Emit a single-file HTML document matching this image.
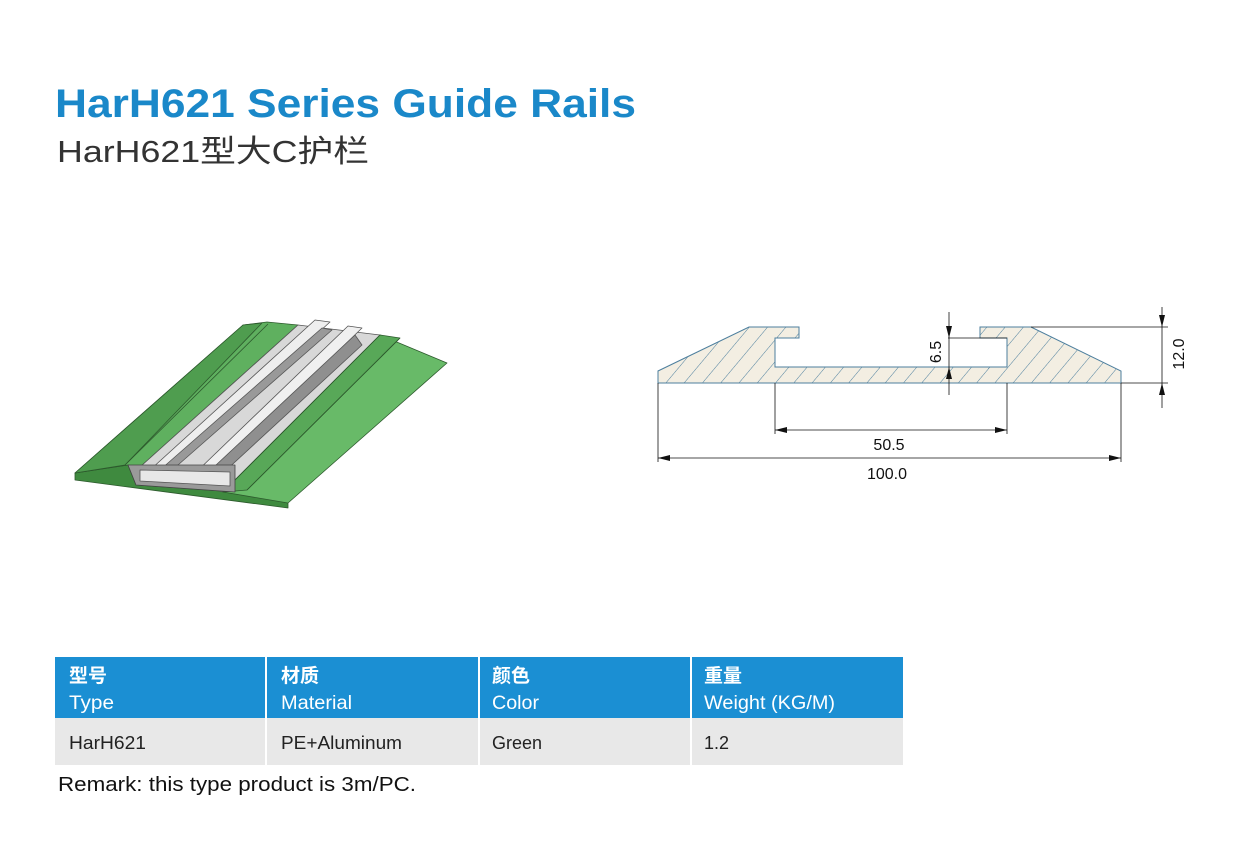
<!DOCTYPE html>
<html><head><meta charset="utf-8"><style>
html,body{margin:0;padding:0;background:#fff}
svg{display:block}
text{font-family:"Liberation Sans","Noto Sans CJK SC",sans-serif}
</style></head><body>
<svg width="1247" height="844" viewBox="0 0 1247 844" xmlns="http://www.w3.org/2000/svg">
<defs>
<pattern id="h" patternUnits="userSpaceOnUse" width="14" height="14" patternTransform="rotate(40)">
<rect width="14" height="14" fill="#f3eee2"/>
<line x1="0" y1="0" x2="0" y2="14" stroke="#4d7f9e" stroke-width="1"/>
</pattern>
<marker id="a" viewBox="0 0 12 6" refX="12" refY="3" markerWidth="12" markerHeight="6" orient="auto-start-reverse" markerUnits="userSpaceOnUse"><path d="M0,0L12,3L0,6z" fill="#111"/></marker>
</defs>
<text x="55" y="117" font-size="40" font-weight="bold" fill="#1a88c9" textLength="581" lengthAdjust="spacingAndGlyphs">HarH621 Series Guide Rails</text>
<text x="57" y="162" font-size="31" fill="#333" textLength="312" lengthAdjust="spacingAndGlyphs">HarH621型大C护栏</text>

<!-- 3D render -->
<g stroke="#2d5a2d" stroke-width="0.8" stroke-linejoin="round">
<polygon points="75,473 128,465 136,485 235,492 288,503 288,508 75,480" fill="#3f8a3f"/>
<polygon points="75,473 243,325 267,322 298,325 140,467 128,465" fill="#5fb05f"/>
<polygon points="75,473 243,325 262,323 125,465" fill="#4f9d4f"/>
<line x1="125" y1="465" x2="268" y2="324"/>
<polygon points="140,467 298,325 380,335 223,492" fill="#d8d8d8" stroke="#555"/>
<polygon points="150,470 315,320 330,322 165,472" fill="#eee" stroke="#555"/>
<polygon points="160,470 322,328 332,330 170,472" fill="#999" stroke="#555"/>
<polygon points="190,478 348,326 362,328 205,480" fill="#f0f0f0" stroke="#555"/>
<polygon points="200,480 355,335 362,345 210,485" fill="#8f8f8f" stroke="#555"/>
<polygon points="223,492 380,335 447,363 288,503" fill="#68ba68"/>
<polygon points="223,492 380,335 400,338 247,490" fill="#58a858"/>
<line x1="247" y1="490" x2="400" y2="338"/>
<polygon points="128,465 235,465 235,492 136,485" fill="#9a9a9a" stroke="#444"/>
<polygon points="140,470 230,472 230,486 140,481" fill="#e8e8e8" stroke="#555"/>
</g>

<!-- cross section -->
<path d="M658,383 L658,371 L749,327 L799,327 L799,338 L775,338 L775,367 L1007,367 L1007,338 L980,338 L980,327 L1031,327 L1121,371 L1121,383 Z" fill="url(#h)" stroke="#4d7f9e" stroke-width="1"/>
<g stroke="#111" stroke-width="0.8" fill="none">
<line x1="658" y1="383" x2="658" y2="462"/>
<line x1="1121" y1="383" x2="1121" y2="462"/>
<line x1="775" y1="383" x2="775" y2="434"/>
<line x1="1007" y1="383" x2="1007" y2="434"/>
<line x1="1031" y1="327" x2="1168" y2="327"/>
<line x1="1121" y1="383" x2="1168" y2="383"/>
<line x1="948" y1="338" x2="1007" y2="338"/>
<line x1="775" y1="430" x2="1007" y2="430" marker-start="url(#a)" marker-end="url(#a)"/>
<line x1="658" y1="458" x2="1121" y2="458" marker-start="url(#a)" marker-end="url(#a)"/>
<line x1="949" y1="312" x2="949" y2="338" marker-end="url(#a)"/>
<line x1="949" y1="395" x2="949" y2="367" marker-end="url(#a)"/>
<line x1="949" y1="338" x2="949" y2="367"/>
<line x1="1162" y1="307" x2="1162" y2="327" marker-end="url(#a)"/>
<line x1="1162" y1="408" x2="1162" y2="383" marker-end="url(#a)"/>
<line x1="1162" y1="327" x2="1162" y2="383"/>
</g>
<g font-size="16" fill="#111">
<text x="889" y="450" text-anchor="middle">50.5</text>
<text x="887" y="479" text-anchor="middle">100.0</text>
<text transform="translate(941,352) rotate(-90)" text-anchor="middle">6.5</text>
<text transform="translate(1184,354) rotate(-90)" text-anchor="middle">12.0</text>
</g>

<!-- table -->
<rect x="55" y="657" width="848" height="61" fill="#1b8fd3"/>
<rect x="55" y="718" width="848" height="47" fill="#e8e8e8"/>
<g stroke="#fff" stroke-width="2">
<line x1="266" y1="657" x2="266" y2="765"/>
<line x1="479" y1="657" x2="479" y2="765"/>
<line x1="691" y1="657" x2="691" y2="765"/>
</g>
<g font-size="19" fill="#fff" font-weight="bold">
<text x="69" y="682">型号</text><text x="69" y="709" textLength="45" lengthAdjust="spacingAndGlyphs" font-weight="normal">Type</text>
<text x="281" y="682">材质</text><text x="281" y="709" textLength="71" lengthAdjust="spacingAndGlyphs" font-weight="normal">Material</text>
<text x="492" y="682">颜色</text><text x="492" y="709" textLength="47" lengthAdjust="spacingAndGlyphs" font-weight="normal">Color</text>
<text x="704" y="682">重量</text><text x="704" y="709" textLength="131" lengthAdjust="spacingAndGlyphs" font-weight="normal">Weight (KG/M)</text>
</g>
<g font-size="18" fill="#222">
<text x="69" y="749" textLength="77" lengthAdjust="spacingAndGlyphs">HarH621</text>
<text x="281" y="749" textLength="121" lengthAdjust="spacingAndGlyphs">PE+Aluminum</text>
<text x="492" y="749" textLength="50" lengthAdjust="spacingAndGlyphs">Green</text>
<text x="704" y="749">1.2</text>
</g>
<text x="58" y="791" font-size="20" fill="#111" textLength="358" lengthAdjust="spacingAndGlyphs">Remark: this type product is 3m/PC.</text>
</svg>
</body></html>
